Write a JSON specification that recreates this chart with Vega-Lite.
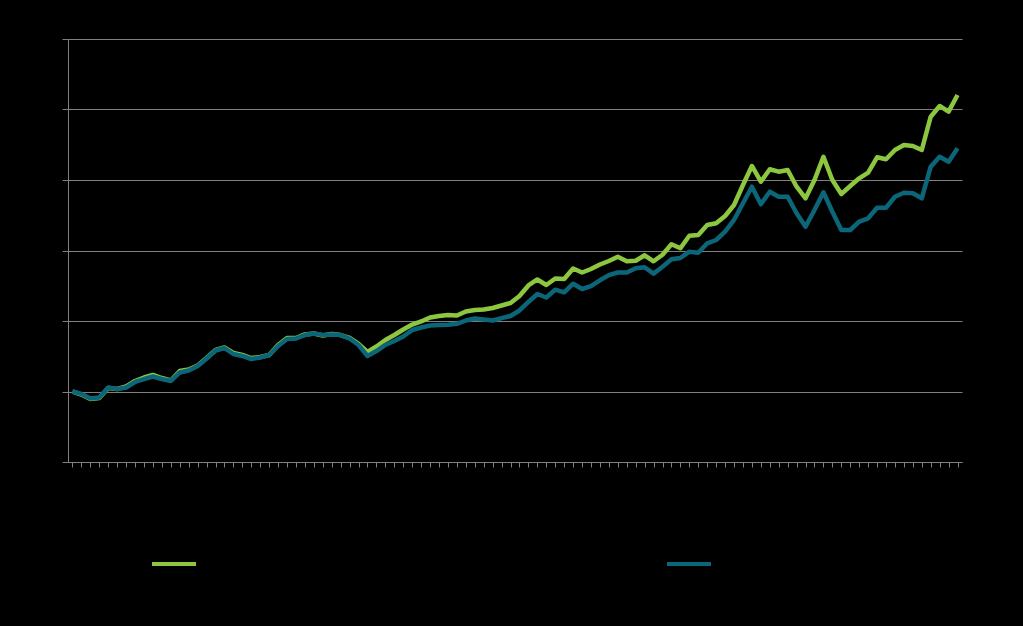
{
  "$schema": "https://vega.github.io/schema/vega-lite/v6.json",
  "width": 894,
  "height": 423,
  "autosize": {"type": "none"},
  "padding": {"left": 68, "top": 39, "right": 61, "bottom": 164},
  "background": "black",
  "config": {"view": {"stroke": null}, "font": "Liberation Sans"},
  "data": {"values": [
    {"t": 1, "Series A": 100.0, "Series B": 100.0},
    {"t": 2, "Series A": 99.57, "Series B": 99.65},
    {"t": 3, "Series A": 98.94, "Series B": 99.01},
    {"t": 4, "Series A": 99.08, "Series B": 99.15},
    {"t": 5, "Series A": 100.5, "Series B": 100.57},
    {"t": 6, "Series A": 100.35, "Series B": 100.35},
    {"t": 7, "Series A": 100.71, "Series B": 100.57},
    {"t": 8, "Series A": 101.49, "Series B": 101.35},
    {"t": 9, "Series A": 101.99, "Series B": 101.77},
    {"t": 10, "Series A": 102.34, "Series B": 102.13},
    {"t": 11, "Series A": 101.91, "Series B": 101.77},
    {"t": 12, "Series A": 101.56, "Series B": 101.49},
    {"t": 13, "Series A": 102.91, "Series B": 102.7},
    {"t": 14, "Series A": 103.12, "Series B": 102.98},
    {"t": 15, "Series A": 103.69, "Series B": 103.62},
    {"t": 16, "Series A": 104.75, "Series B": 104.68},
    {"t": 17, "Series A": 105.89, "Series B": 105.82},
    {"t": 18, "Series A": 106.24, "Series B": 106.17},
    {"t": 19, "Series A": 105.46, "Series B": 105.32},
    {"t": 20, "Series A": 105.18, "Series B": 105.04},
    {"t": 21, "Series A": 104.75, "Series B": 104.61},
    {"t": 22, "Series A": 104.89, "Series B": 104.82},
    {"t": 23, "Series A": 105.18, "Series B": 105.18},
    {"t": 24, "Series A": 106.6, "Series B": 106.45},
    {"t": 25, "Series A": 107.59, "Series B": 107.45},
    {"t": 26, "Series A": 107.59, "Series B": 107.52},
    {"t": 27, "Series A": 108.09, "Series B": 108.01},
    {"t": 28, "Series A": 108.23, "Series B": 108.23},
    {"t": 29, "Series A": 107.94, "Series B": 108.01},
    {"t": 30, "Series A": 108.16, "Series B": 108.09},
    {"t": 31, "Series A": 108.01, "Series B": 108.01},
    {"t": 32, "Series A": 107.59, "Series B": 107.52},
    {"t": 33, "Series A": 106.74, "Series B": 106.6},
    {"t": 34, "Series A": 105.6, "Series B": 105.04},
    {"t": 35, "Series A": 106.38, "Series B": 105.74},
    {"t": 36, "Series A": 107.3, "Series B": 106.6},
    {"t": 37, "Series A": 108.01, "Series B": 107.16},
    {"t": 38, "Series A": 108.79, "Series B": 107.8},
    {"t": 39, "Series A": 109.5, "Series B": 108.72},
    {"t": 40, "Series A": 109.93, "Series B": 109.08},
    {"t": 41, "Series A": 110.5, "Series B": 109.36},
    {"t": 42, "Series A": 110.71, "Series B": 109.43},
    {"t": 43, "Series A": 110.85, "Series B": 109.48},
    {"t": 44, "Series A": 110.78, "Series B": 109.6},
    {"t": 45, "Series A": 111.35, "Series B": 110.07},
    {"t": 46, "Series A": 111.56, "Series B": 110.35},
    {"t": 47, "Series A": 111.63, "Series B": 110.21},
    {"t": 48, "Series A": 111.84, "Series B": 110.07},
    {"t": 49, "Series A": 112.2, "Series B": 110.4},
    {"t": 50, "Series A": 112.55, "Series B": 110.71},
    {"t": 51, "Series A": 113.55, "Series B": 111.49},
    {"t": 52, "Series A": 115.04, "Series B": 112.7},
    {"t": 53, "Series A": 115.89, "Series B": 113.83},
    {"t": 54, "Series A": 115.11, "Series B": 113.33},
    {"t": 55, "Series A": 116.03, "Series B": 114.44},
    {"t": 56, "Series A": 115.96, "Series B": 114.07},
    {"t": 57, "Series A": 117.45, "Series B": 115.29},
    {"t": 58, "Series A": 116.88, "Series B": 114.54},
    {"t": 59, "Series A": 117.38, "Series B": 114.96},
    {"t": 60, "Series A": 118.01, "Series B": 115.77},
    {"t": 61, "Series A": 118.51, "Series B": 116.5},
    {"t": 62, "Series A": 119.11, "Series B": 116.88},
    {"t": 63, "Series A": 118.47, "Series B": 116.88},
    {"t": 64, "Series A": 118.55, "Series B": 117.49},
    {"t": 65, "Series A": 119.32, "Series B": 117.62},
    {"t": 66, "Series A": 118.47, "Series B": 116.72},
    {"t": 67, "Series A": 119.4, "Series B": 117.7},
    {"t": 68, "Series A": 120.88, "Series B": 118.75},
    {"t": 69, "Series A": 120.31, "Series B": 118.94},
    {"t": 70, "Series A": 122.1, "Series B": 119.83},
    {"t": 71, "Series A": 122.2, "Series B": 119.69},
    {"t": 72, "Series A": 123.62, "Series B": 121.02},
    {"t": 73, "Series A": 123.86, "Series B": 121.49},
    {"t": 74, "Series A": 124.89, "Series B": 122.67},
    {"t": 75, "Series A": 126.45, "Series B": 124.33},
    {"t": 76, "Series A": 129.29, "Series B": 126.7},
    {"t": 77, "Series A": 131.99, "Series B": 129.05},
    {"t": 78, "Series A": 129.76, "Series B": 126.55},
    {"t": 79, "Series A": 131.52, "Series B": 128.34},
    {"t": 80, "Series A": 131.18, "Series B": 127.63},
    {"t": 81, "Series A": 131.42, "Series B": 127.63},
    {"t": 82, "Series A": 129.05, "Series B": 125.28},
    {"t": 83, "Series A": 127.4, "Series B": 123.38},
    {"t": 84, "Series A": 130.0, "Series B": 125.74},
    {"t": 85, "Series A": 133.3, "Series B": 128.26},
    {"t": 86, "Series A": 130.0, "Series B": 125.5},
    {"t": 87, "Series A": 128.01, "Series B": 122.91},
    {"t": 88, "Series A": 129.15, "Series B": 122.91},
    {"t": 89, "Series A": 130.24, "Series B": 124.09},
    {"t": 90, "Series A": 131.04, "Series B": 124.57},
    {"t": 91, "Series A": 133.22, "Series B": 126.07},
    {"t": 92, "Series A": 132.94, "Series B": 126.07},
    {"t": 93, "Series A": 134.26, "Series B": 127.63},
    {"t": 94, "Series A": 134.96, "Series B": 128.2},
    {"t": 95, "Series A": 134.82, "Series B": 128.11},
    {"t": 96, "Series A": 134.26, "Series B": 127.4},
    {"t": 97, "Series A": 138.98, "Series B": 131.89},
    {"t": 98, "Series A": 140.5, "Series B": 133.3},
    {"t": 99, "Series A": 139.69, "Series B": 132.6},
    {"t": 100, "Series A": 142.06, "Series B": 134.5}
  ]},
  "transform": [{"fold": ["Series A", "Series B"], "as": ["series", "value"]}],
  "mark": {"type": "line", "strokeWidth": 4.5, "strokeJoin": "round"},
  "encoding": {
    "x": {
      "field": "t", "type": "ordinal",
      "scale": {"paddingInner": 0, "paddingOuter": 0},
      "axis": {"title": null, "bandPosition": 0, "tickSize": 5, "tickColor": "#808080", "domainColor": "#808080", "labels": false, "grid": false}
    },
    "y": {
      "field": "value", "type": "quantitative",
      "scale": {"domain": [90, 150], "nice": false, "zero": false},
      "axis": {"title": null, "values": [90, 100, 110, 120, 130, 140, 150], "grid": true, "gridColor": "#808080", "domainColor": "#808080", "tickColor": "#808080", "tickSize": 6, "labelColor": "black", "labelFontSize": 12}
    },
    "color": {
      "field": "series", "type": "nominal",
      "scale": {"domain": ["Series A", "Series B"], "range": ["#8DC63F", "#0C6679"]},
      "legend": {"title": null, "orient": "none", "legendX": 82, "legendY": 501, "direction": "horizontal", "symbolType": "stroke", "symbolSize": 1936, "symbolStrokeWidth": 4, "labelColor": "black", "labelFontSize": 14, "labelOffset": 8, "columnPadding": 400}
    }
  }
}
